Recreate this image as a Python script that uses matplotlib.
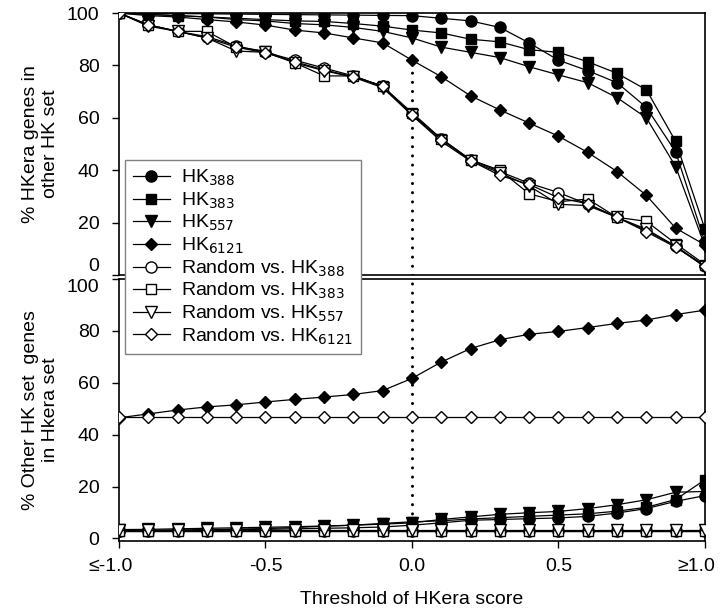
import matplotlib
matplotlib.use("Agg")
import matplotlib.pyplot as plt
from matplotlib.transforms import ScaledTranslation

plt.rcParams['font.family'] = ['Liberation Sans', 'DejaVu Sans']

# threshold of HKera score
thresholds = [-1.0, -0.9, -0.8, -0.7, -0.6, -0.5, -0.4, -0.3, -0.2, -0.1, 0.0,
              0.1, 0.2, 0.3, 0.4, 0.5, 0.6, 0.7, 0.8, 0.9, 1.0]
xtick_pos = [-1.0, -0.5, 0.0, 0.5, 1.0]
xtick_labels = ["\u2264-1.0", "-0.5", "0.0", "0.5", "\u22651.0"]

# top panel: % HKera genes in other HK set
top_hk388 = [100, 99.9, 99.8, 99.7, 99.6, 99.5, 99.4, 99.3, 99.2, 99.1, 99.0,
             98, 97, 94.5, 88.6, 82, 78, 73.4, 64, 47, 12.5]
top_hk383 = [100, 99.5, 99, 98.5, 98, 97.5, 97, 96.8, 96, 95, 93.5,
             92.4, 90, 89, 86, 85, 81.4, 77, 70.7, 51, 17.5]
top_hk557 = [100, 99.5, 99, 98.5, 97.5, 97, 96, 95.5, 94.5, 93, 90.5,
             87, 85, 83, 79.5, 76.4, 73.4, 67.7, 60, 41.4, 11]
top_hk6121 = [100, 99, 98.5, 97.5, 96.6, 95.4, 93.5, 92.4, 90.5, 88.6, 82,
              75.7, 68.4, 63, 58, 53, 46.8, 39.5, 30.4, 17.9, 11.5]
top_rnd388 = [100, 95.5, 93, 91, 87.5, 85, 82, 79, 76, 72, 61.5,
              52, 44, 39.5, 35, 31.5, 27, 22, 17, 11, 3.5]
top_rnd383 = [100, 95.5, 93, 93, 87, 85.5, 81, 76, 76, 72, 62,
              52, 44, 40, 31, 28, 29, 22, 20.5, 12, 4]
top_rnd557 = [100, 95, 93, 90.5, 85.5, 85, 81, 78, 75.5, 71.5, 61,
              51, 43.5, 39, 34, 27, 26.5, 22, 17.5, 11, 3]
top_rnd6121 = [100, 95.4, 93, 90.5, 87, 84.8, 81.4, 78.3, 75.7, 72.2, 61,
               51.7, 43.7, 38, 34.6, 29.5, 27.2, 22, 16.5, 10.6, 3.4]

# bottom panel: % other HK set genes in HKera set
bot_hk388 = [3.0, 3.1, 3.2, 3.3, 3.4, 3.5, 3.7, 3.9, 4.1, 4.4, 5.1,
             6.0, 7.0, 7.3, 7.6, 7.9, 8.5, 9.8, 11.5, 14.3, 16.5]
bot_hk383 = [2.9, 3.0, 3.2, 3.4, 3.6, 3.8, 4.2, 4.7, 5.1, 5.8, 6.4,
             6.8, 7.5, 8.0, 8.5, 9.0, 9.5, 10.5, 12.0, 15.0, 22.6]
bot_hk557 = [3.4, 3.5, 3.7, 3.9, 4.1, 4.3, 4.5, 4.8, 5.1, 5.5, 6.0,
             7.3, 8.3, 9.3, 9.9, 10.4, 11.5, 13.0, 14.9, 17.8, 18.1]
bot_hk6121 = [46.5, 48, 49.5, 50.7, 51.5, 52.6, 53.6, 54.5, 55.5, 57, 61.7,
              68, 73.2, 76.6, 78.7, 79.8, 81.3, 82.9, 84.2, 86.3, 88]
bot_rnd388 = [3.0] * 21
bot_rnd383 = [2.9] * 21
bot_rnd557 = [3.4] * 21
bot_rnd6121 = [47.0] * 21

labels = ["HK$_{388}$", "HK$_{383}$", "HK$_{557}$", "HK$_{6121}$",
          "Random vs. HK$_{388}$", "Random vs. HK$_{383}$",
          "Random vs. HK$_{557}$", "Random vs. HK$_{6121}$"]
markers = ['o', 's', 'v', 'D', 'o', 's', 'v', 'D']
msizes = [8, 7, 8, 6.5, 8, 7, 8, 6.5]
faces = ['black'] * 4 + ['white'] * 4

top_series = [top_hk388, top_hk383, top_hk557, top_hk6121,
              top_rnd388, top_rnd383, top_rnd557, top_rnd6121]
bot_series = [bot_hk388, bot_hk383, bot_hk557, bot_hk6121,
              bot_rnd388, bot_rnd383, bot_rnd557, bot_rnd6121]

fig = plt.figure(figsize=(7.22, 6.15), dpi=100)
ax1 = fig.add_axes([0.1648, 0.5528, 0.8116, 0.4260])
ax2 = fig.add_axes([0.1648, 0.1203, 0.8116, 0.4260])

handles = []
for ys, m, ms, fc, lab in zip(top_series, markers, msizes, faces, labels):
    h, = ax1.plot(thresholds, ys, color='black', lw=0.9, marker=m, ms=ms,
                  mfc=fc, mec='black', mew=1.0, label=lab, zorder=3)
    handles.append(h)
for ys, m, ms, fc in zip(bot_series, markers, msizes, faces):
    ax2.plot(thresholds, ys, color='black', lw=0.9, marker=m, ms=ms,
             mfc=fc, mec='black', mew=1.0, zorder=3)

# dotted line at threshold 0
ax1.axvline(0, ymax=0.82, color='black', lw=2.2, linestyle=(0, (0.01, 3)),
            dash_capstyle='round', zorder=2)
ax2.axvline(0, color='black', lw=2.2, linestyle=(0, (0.01, 3)),
            dash_capstyle='round', zorder=2)

for ax in (ax1, ax2):
    ax.set_xlim(-1.0, 1.0)
    ax.set_yticks([0, 20, 40, 60, 80, 100])
    ax.tick_params(axis='y', direction='out', length=5, width=1,
                   labelsize=14, pad=9)
    for s in ax.spines.values():
        s.set_linewidth(1.2)
ax1.set_ylim(0, 100)
ax2.set_ylim(-1, 100)

ax1.tick_params(axis='x', bottom=False, labelbottom=False)
ax2.set_xticks(xtick_pos)
ax2.set_xticklabels(xtick_labels)
ax2.tick_params(axis='x', direction='out', length=5, width=1, labelsize=14, pad=7)

# edge labels sit a little to the left, like the original
shift = ScaledTranslation(-6 / 72, 0, fig.dpi_scale_trans)
for lbl in (ax2.get_xticklabels()[0], ax2.get_xticklabels()[-1]):
    lbl.set_transform(lbl.get_transform() + shift)

# keep the touching 0 / 100 labels apart
ax1.get_yticklabels()[0].set_va('bottom')
ax2.get_yticklabels()[-1].set_va('top')

ax1.set_ylabel("% HKera genes in\nother HK set", fontsize=14, labelpad=6)
ax2.set_ylabel("% Other HK set  genes\nin Hkera set", fontsize=14, labelpad=6)
ax2.set_xlabel("Threshold of HKera score", fontsize=14, labelpad=12)

leg = fig.legend(handles=handles, loc='upper left',
                 bbox_to_anchor=(0.1731, 0.7398), borderaxespad=0,
                 fontsize=14, handlelength=1.9, handletextpad=0.6,
                 labelspacing=0.12, fancybox=False, framealpha=1,
                 edgecolor='#808080', borderpad=0.4)
leg.get_frame().set_linewidth(1.0)

fig.savefig("out.png", dpi=100)
